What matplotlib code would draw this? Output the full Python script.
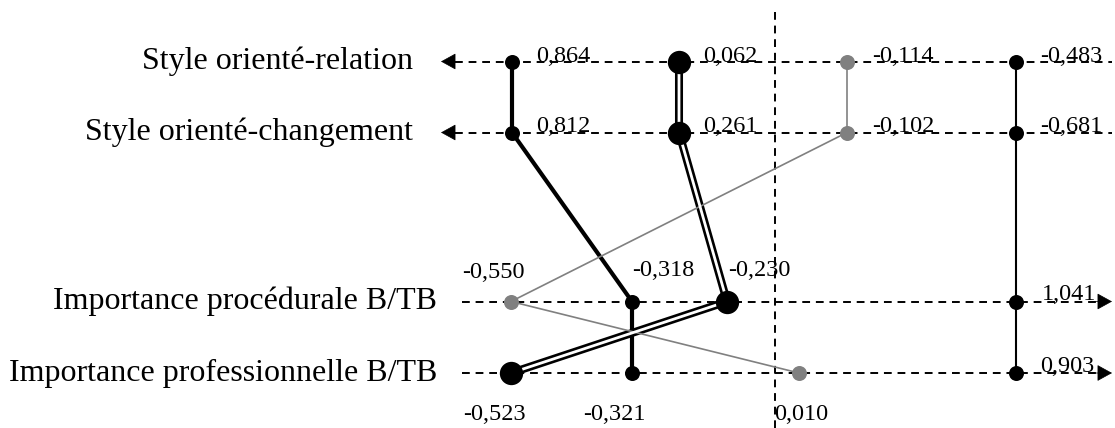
import numpy as np
import matplotlib.pyplot as plt

plt.rcParams['font.family'] = ['Liberation Serif', 'DejaVu Serif']

# rows of the diagram
rows = ["Style orienté-relation", "Style orienté-changement",
        "Importance procédurale B/TB", "Importance professionnelle B/TB"]

# values of the four groups on each row
vals_g1 = [0.864, 0.812, -0.318, -0.321]
vals_g2 = [0.062, 0.261, -0.230, -0.523]
vals_g3 = [-0.114, -0.102, -0.550, 0.010]
vals_g4 = [-0.483, -0.681, 1.041, 0.903]

# schematic horizontal placement of each point (diagram units)
pos_g1 = [512, 512, 632, 632]
pos_g2 = [679, 679, 727, 511]
pos_g3 = [847, 847, 511, 799]
pos_g4 = [1016, 1016, 1016, 1016]

row_y = [61.5, 132.5, 301.5, 373]
zero_x = 775

fig = plt.figure(figsize=(11.15, 4.28), dpi=100)
ax = fig.add_axes([0, 0, 1, 1])
ax.set_xlim(0, 1115)
ax.set_ylim(428, 0)
ax.axis('off')

dash = dict(color='black', lw=1.4, linestyle=(0, (4, 3)), zorder=1)
head = dict(arrowstyle='-|>,head_length=0.6,head_width=0.33', mutation_scale=16,
            color='black', lw=0.5, shrinkA=0, shrinkB=0)

# horizontal axes: the two upper ones point left, the lower ones right
for i, y in enumerate(row_y):
    if i < 2:
        ax.plot([455, 1112], [y, y], **dash)
        ax.annotate('', xy=(441, y), xytext=(462, y), arrowprops=head)
    else:
        ax.plot([462, 1098], [y, y], **dash)
        ax.annotate('', xy=(1112, y), xytext=(1091, y), arrowprops=head)

# vertical zero line
ax.plot([zero_x, zero_x], [12, 428], **dash)

# row labels
for lab, y in zip(rows, row_y):
    x_end = 413 if y < 200 else 437
    ax.text(x_end, y, lab, ha='right', va='center', fontsize=23)

# connecting paths
ax.plot(pos_g1, row_y, color='black', lw=3.0, zorder=3)
ax.plot(pos_g2, row_y, color='black', lw=5.8, zorder=3, solid_capstyle='butt')
ax.plot(pos_g2, row_y, color='white', lw=2.0, zorder=3.1, solid_capstyle='butt')
ax.plot(pos_g3, row_y, color='#808080', lw=1.2, zorder=3)
ax.plot(pos_g4, row_y, color='black', lw=1.5, zorder=3)

# points
ax.plot(pos_g1, row_y, 'o', color='black', ms=10.8, mec='none', zorder=4)
ax.plot(pos_g2, row_y, 'o', color='black', ms=16.8, mec='none', zorder=4)
ax.plot(pos_g3, row_y, 'o', color='#808080', ms=10.8, mec='none', zorder=4)
ax.plot(pos_g4, row_y, 'o', color='black', ms=10.8, mec='none', zorder=4)


def fmt(v):
    return f"{v:.3f}".replace('.', ',')


# label offsets (dx, dy, ha) per group and row
offs = {
    1: [(24, 0, 'left'), (24, 0, 'left'), (0, -26, 'left'), (-18, 47, 'center')],
    2: [(24, 0, 'left'), (24, 0, 'left'), (1, -26, 'left'), (-17, 47, 'center')],
    3: [(25, 0, 'left'), (25, 0, 'left'), (-18, -24, 'center'), (2, 47, 'center')],
    4: [(24, 0, 'left'), (24, 0, 'left'), (26, -2, 'left'), (24, -1, 'left')],
}
groups = {1: (pos_g1, vals_g1), 2: (pos_g2, vals_g2),
          3: (pos_g3, vals_g3), 4: (pos_g4, vals_g4)}
for g, (xs, vs) in groups.items():
    for k, (x, v) in enumerate(zip(xs, vs)):
        dx, dy, ha = offs[g][k]
        ax.text(x + dx, row_y[k] + dy, fmt(v), ha=ha, va='baseline',
                fontsize=17.5, zorder=5)

fig.savefig('out.png', dpi=100)
